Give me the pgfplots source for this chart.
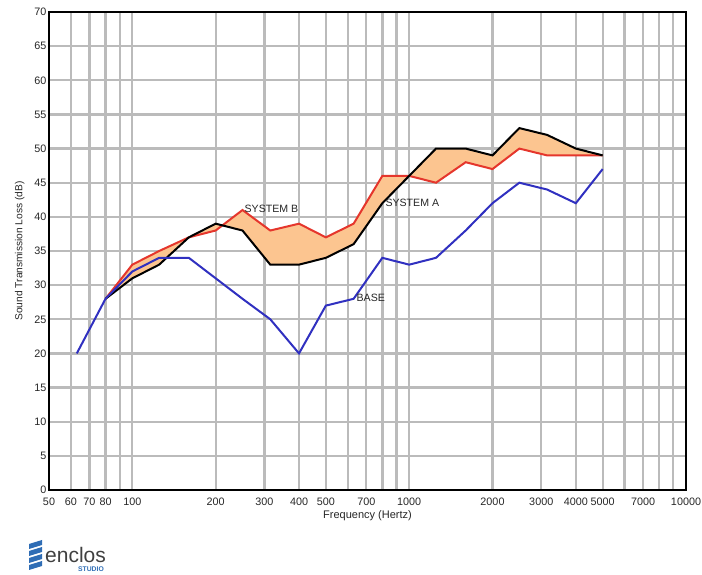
\documentclass[border=0pt]{standalone}
\usepackage{pgfplots}
\pgfplotsset{compat=1.18}
\usepackage{fontspec}
\setmainfont{Liberation Sans}
\definecolor{gridg}{HTML}{BBBBBB}
\definecolor{redl}{HTML}{E5362C}
\definecolor{bluel}{HTML}{3030C0}
\definecolor{fillo}{HTML}{FCC590}
\definecolor{logob}{HTML}{2F6DB5}
\begin{document}
\begin{tikzpicture}
\useasboundingbox (0pt,0pt) rectangle (702pt,575pt);
\begin{axis}[
  at={(49pt,85pt)}, anchor=south west,
  scale only axis, width=637pt, height=478pt,
  xmode=log, xmin=50, xmax=10000, ymin=0, ymax=70,
  xtick={50,60,70,80,100,200,300,400,500,700,1000,2000,3000,4000,5000,7000,10000},
  xticklabels={50,60,70,80,100,200,300,400,500,700,1000,2000,3000,4000,5000,7000,10000},
  minor xtick={90,600,800,900,6000,8000,9000},
  ytick={0,5,...,70},
  grid=both,
  grid style={draw=gridg, line width=2.3pt},
  minor grid style={draw=gridg, line width=2.3pt},
  major tick length=0pt, minor tick length=0pt,
  axis line style={line width=2pt, black},
  tick label style={font=\fontsize{10.8}{12}\selectfont, text=black!85},
  /pgf/number format/assume math mode=true,
  xticklabel style={yshift=-4pt},
  yticklabel style={xshift=1pt},
  xlabel={Frequency (Hertz)},
  ylabel={Sound Transmission Loss (dB)},
  xlabel style={font=\fontsize{11}{12}\selectfont, text=black!85, yshift=2pt},
  ylabel style={font=\fontsize{10.2}{12}\selectfont, text=black!85, yshift=3pt},
]
\addplot[fill=fillo, draw=none] coordinates {
(80,28)(100,31)(125,33)(160,37)(200,39)(250,38)(315,33)(400,33)(500,34)(630,36)(800,42)(1000,46)(1250,50)(1600,50)(2000,49)(2500,53)(3150,52)(4000,50)(5000,49)
(4000,49)(3150,49)(2500,50)(2000,47)(1600,48)(1250,45)(1000,46)(800,46)(630,39)(500,37)(400,39)(315,38)(250,41)(200,38)(160,37)(125,35)(100,33)(80,28)} -- cycle;
\addplot[redl, line width=2pt] coordinates {
(80,28)(100,33)(125,35)(160,37)(200,38)(250,41)(315,38)(400,39)(500,37)(630,39)(800,46)(1000,46)(1250,45)(1600,48)(2000,47)(2500,50)(3150,49)(4000,49)(5000,49)};
\addplot[black, line width=2pt] coordinates {
(80,28)(100,31)(125,33)(160,37)(200,39)(250,38)(315,33)(400,33)(500,34)(630,36)(800,42)(1000,46)(1250,50)(1600,50)(2000,49)(2500,53)(3150,52)(4000,50)(5000,49)};
\addplot[bluel, line width=2pt] coordinates {
(63,20)(80,28)(100,32)(125,34)(160,34)(200,31)(250,28)(315,25)(400,20)(500,27)(630,28)(800,34)(1000,33)(1250,34)(1600,38)(2000,42)(2500,45)(3150,44)(4000,42)(5000,47)};
\node[anchor=west, font=\fontsize{10.6}{12}\selectfont, text=black!85, inner sep=0pt] at (axis cs:254,41.1) {SYSTEM B};
\node[anchor=west, font=\fontsize{10.6}{12}\selectfont, text=black!85, inner sep=0pt] at (axis cs:820,42.1) {SYSTEM A};
\node[anchor=west, font=\fontsize{10.6}{12}\selectfont, text=black!85, inner sep=0pt] at (axis cs:645,28.1) {BASE};
\end{axis}
% logo
\begin{scope}[logob]
\fill (29pt,5pt) -- (42pt,9pt) -- (42pt,14pt) -- (29pt,10pt) -- cycle;
\fill (29pt,12pt) -- (42pt,16pt) -- (42pt,21pt) -- (29pt,17pt) -- cycle;
\fill (29pt,19pt) -- (42pt,23pt) -- (42pt,28pt) -- (29pt,24pt) -- cycle;
\fill (29pt,26pt) -- (42pt,30pt) -- (42pt,35pt) -- (29pt,31pt) -- cycle;
\end{scope}
\node[anchor=south west, inner sep=0pt, text=black!75, font=\fontsize{21}{22}\selectfont] at (45pt,12pt) {enclos};
\node[anchor=south east, inner sep=0pt, text=logob, font=\bfseries\fontsize{6.8}{7}\selectfont] at (104pt,3pt) {STUDIO};
\end{tikzpicture}
\end{document}
